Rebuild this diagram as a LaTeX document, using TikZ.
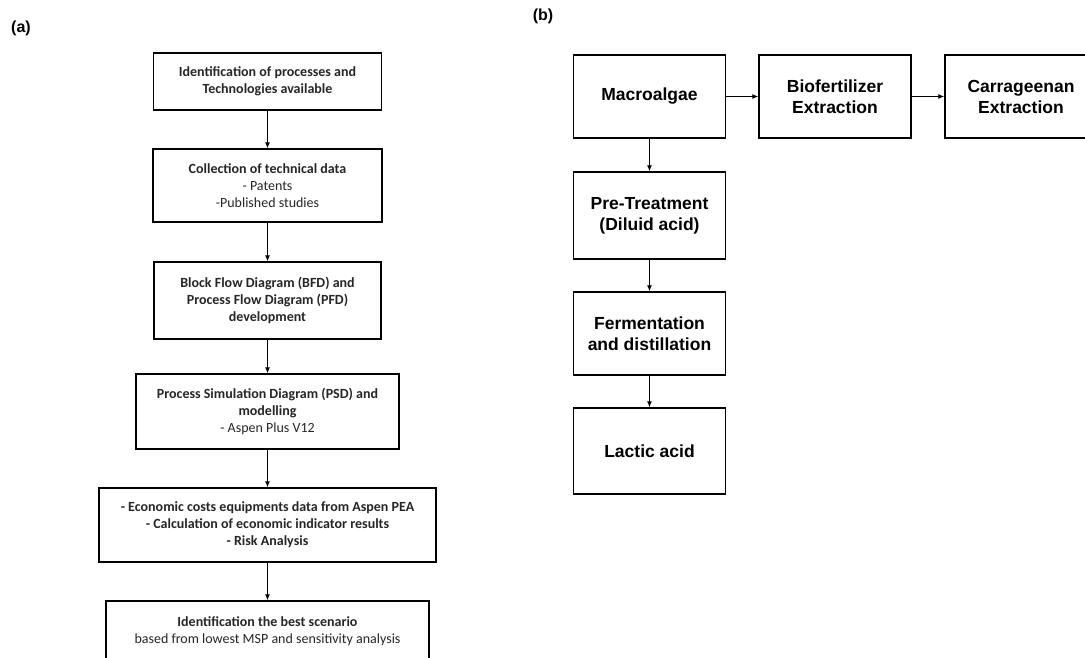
\documentclass[tikz,border=0pt]{standalone}
\usepackage{fontspec}
\setmainfont{Carlito}
\newfontfamily\arialfont{Liberation Sans}
\usetikzlibrary{arrows.meta}
\tikzset{stepa/.style={draw, line width=1.3pt, align=center, inner sep=0pt, text=black!85,
    font=\fontsize{14}{17}\selectfont},
  stepb/.style={draw, line width=1.3pt, align=center, inner sep=0pt, minimum width=152pt,
    font=\arialfont\bfseries\fontsize{17.5}{21}\selectfont},
  flow/.style={-{Latex[length=6pt,width=5pt]}, line width=1.1pt},
  panel/.style={font=\arialfont\bfseries\fontsize{16}{19}\selectfont}}

\begin{document}
\begin{tikzpicture}[x=1pt,y=-1pt]
   \useasboundingbox (0,0) rectangle (1085,657);
   \clip (0,0) rectangle (1085,657);
   \node[panel] (la) at (21,28) {(a)};
   \node[panel] (lb) at (543,16) {(b)};
   % panel (a)
   \node[stepa, minimum width=228pt, minimum height=57pt] (a1) at (267.5,81.5)
     {\textbf{Identification of processes and}\\\textbf{Technologies available}};
   \node[stepa, minimum width=229pt, minimum height=73pt] (a2) at (267.5,185.5)
     {\textbf{Collection of technical data}\\- Patents\\-Published studies};
   \node[stepa, minimum width=227pt, minimum height=77pt] (a3) at (267.5,300.5)
     {\textbf{Block Flow Diagram (BFD) and}\\\textbf{Process Flow Diagram (PFD)}\\\textbf{development}};
   \node[stepa, minimum width=263pt, minimum height=75pt] (a4) at (267.5,411.5)
     {\textbf{Process Simulation Diagram (PSD) and}\\\textbf{modelling}\\- Aspen Plus V12};
   \node[stepa, minimum width=337pt, minimum height=74pt] (a5) at (267.5,525)
     {\textbf{- Economic costs equipments data from Aspen PEA}\\\textbf{- Calculation of economic indicator results}\\\textbf{- Risk Analysis}};
   \node[stepa, minimum width=323pt, minimum height=60pt] (a6) at (267.5,631)
     {\textbf{Identification the best scenario}\\based from lowest MSP and sensitivity analysis};
   \draw[flow] (a1) -- (a2);
   \draw[flow] (a2) -- (a3);
   \draw[flow] (a3) -- (a4);
   \draw[flow] (a4) -- (a5);
   \draw[flow] (a5) -- (a6);
   % panel (b)
   \node[stepb, minimum height=83pt] (mac) at (649.5,96.5) {Macroalgae};
   \node[stepb, minimum height=83pt] (bio) at (835,96.5) {Biofertilizer\\Extraction};
   \node[stepb, minimum height=83pt] (car) at (1021,96.5) {Carrageenan\\Extraction};
   \node[stepb, minimum height=87pt] (pre) at (649.5,215.5) {Pre-Treatment\\(Diluid acid)};
   \node[stepb, minimum height=83pt] (fer) at (649.5,333.5) {Fermentation\\and distillation};
   \node[stepb, minimum height=86pt] (lac) at (649.5,451) {Lactic acid};
   \draw[flow] (mac) -- (bio);
   \draw[flow] (bio) -- (car);
   \draw[flow] (mac) -- (pre);
   \draw[flow] (pre) -- (fer);
   \draw[flow] (fer) -- (lac);
\end{tikzpicture}
\end{document}
